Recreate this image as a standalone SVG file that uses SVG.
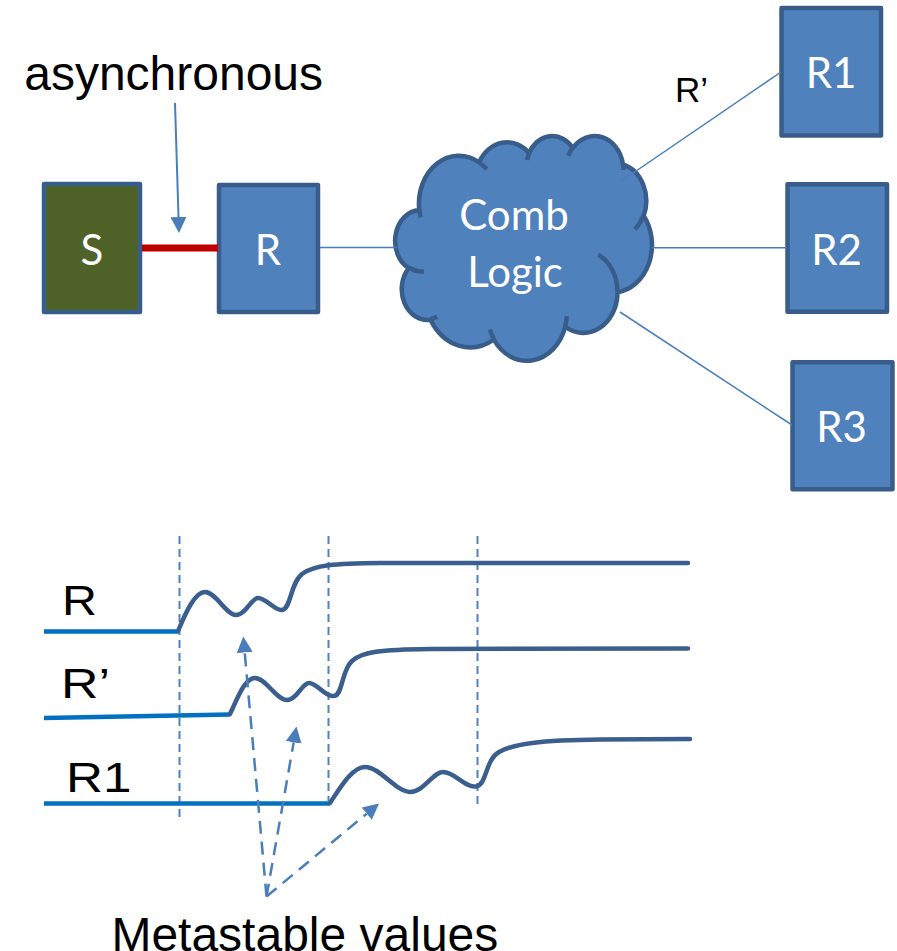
<svg xmlns="http://www.w3.org/2000/svg" width="897" height="951" viewBox="0 0 897 951">
  <defs>
    <style>
      .box { fill: #4F81BD; stroke: #385D8A; stroke-width: 4.5; stroke-linejoin: round; }
      .olive { fill: #4F6228; }
      .lbl { font-family: Lato, "Open Sans", "Noto Sans", sans-serif; font-size: 42px; fill: #FFFFFF; text-anchor: middle; }
      .txt { font-family: "Liberation Sans", Arial, sans-serif; fill: #000000; }
      .wire { stroke: #4A7EBB; stroke-width: 1.5; fill: none; }
      .async { stroke: #C00000; stroke-width: 7; fill: none; }
      .grid { stroke: #4F81BD; stroke-width: 2; stroke-dasharray: 8 5; fill: none; }
      .low { stroke: #0070C0; stroke-width: 4.5; fill: none; }
      .wave { stroke: #3A5F8E; stroke-width: 4.5; fill: none; stroke-linecap: round; stroke-linejoin: round; }
      .ptr { stroke: #4A7EBB; stroke-width: 2.5; stroke-dasharray: 13 8; fill: none; marker-end: url(#head); }
      .solid-ptr { stroke: #4A7EBB; stroke-width: 2; fill: none; marker-end: url(#head); }
      .cloud { fill: #4F81BD; stroke: #385D8A; stroke-width: 4.5; stroke-linejoin: round; }
      .rib { fill: none; stroke: #385D8A; stroke-width: 4.5; }
    </style>
    <marker id="head" viewBox="0 0 16 16" refX="0" refY="8" markerWidth="16" markerHeight="16" markerUnits="userSpaceOnUse" orient="auto">
      <path d="M0,0 L16,8 L0,16 Z" fill="#4A7EBB"/>
    </marker>
  </defs>

  <rect width="897" height="951" fill="#FFFFFF"/>

  <!-- sender / receiver registers -->
  <g id="node-S">
    <rect class="box olive" x="44" y="184" width="96" height="128"/>
    <text class="lbl" x="92" y="265">S</text>
  </g>
  <g id="node-R">
    <rect class="box" x="219" y="185" width="99" height="127"/>
    <text class="lbl" x="268" y="265">R</text>
  </g>

  <!-- combinational logic cloud (43200-unit preset geometry) -->
  <g id="node-comb-logic">
    <g transform="translate(396.2 135.27) scale(0.005918 0.005202)">
      <path class="cloud" vector-effect="non-scaling-stroke" d="M3900 14370 A6753 9190 0 0 1 14005 5202 A5333 7267 0 0 1 22456 3432 A4365 5945 0 0 1 29833 2481 A4857 6595 0 0 1 38318 5576 A5333 7273 0 0 1 41819 15460 A6775 9220 0 0 1 37405 30203 A5785 7867 0 0 1 28557 36813 A6752 9215 0 0 1 16481 39264 A7720 10543 0 0 1 5805 35470 A4360 5918 0 0 1 2114 25548 A4345 5945 0 0 1 3900 14370 Z"/>
      <path class="rib" vector-effect="non-scaling-stroke" d="M4693 26177 A4345 5945 0 0 1 2160 25380 M6928 34899 A4360 5918 0 0 1 5820 35281 M16478 39090 A6752 9215 0 0 1 15810 37350 M28827 34751 A6752 9215 0 0 1 28560 36660 M34129 22954 A5785 7867 0 0 1 37380 30090 M41798 15354 A5333 7273 0 0 1 40350 18030 M38324 5426 A4857 6595 0 0 1 38400 6690 M29078 3952 A4857 6595 0 0 1 29820 2341 M22141 4720 A4365 5945 0 0 1 22500 3330 M14000 5192 A6753 9190 0 0 1 15300 6540 M4127 15789 A6753 9190 0 0 1 3900 14370"/>
    </g>
    <text class="lbl" x="514" y="230">Comb</text>
    <text class="lbl" x="515" y="287">Logic</text>
  </g>

  <g id="node-R1">
    <rect class="box" x="781.5" y="8" width="99.5" height="127.5"/>
    <text class="lbl" x="831" y="88">R1</text>
  </g>
  <g id="node-R2">
    <rect class="box" x="787.5" y="184.3" width="99.5" height="127.5"/>
    <text class="lbl" x="836.5" y="265">R2</text>
  </g>
  <g id="node-R3">
    <rect class="box" x="792.5" y="362.3" width="100" height="127"/>
    <text class="lbl" x="841.5" y="442">R3</text>
  </g>

  <!-- wiring between blocks -->
  <g id="connectors">
    <line class="async" x1="142" y1="248" x2="218" y2="248"/>
    <line class="wire" x1="320" y1="247.5" x2="397" y2="247.5"/>
    <line class="wire" x1="620" y1="182" x2="781" y2="72"/>
    <line class="wire" x1="652" y1="247.7" x2="787" y2="247.7"/>
    <line class="wire" x1="620" y1="312" x2="792" y2="425"/>
    <line class="solid-ptr" x1="175" y1="103" x2="178.5" y2="217"/>
  </g>

  <text class="txt" x="24.2" y="90" font-size="48">asynchronous</text>
  <text class="txt" x="675" y="102" font-size="35">R’</text>

  <!-- timing diagram: clock edges -->
  <g id="clock-edges">
    <line class="grid" x1="179.5" y1="536" x2="179.5" y2="821"/>
    <line class="grid" x1="328.5" y1="536" x2="328.5" y2="801"/>
    <line class="grid" x1="477.5" y1="536" x2="477.5" y2="806"/>
  </g>

  <!-- signal traces -->
  <g id="signal-R">
    <line class="low" x1="44" y1="631.5" x2="179" y2="631.5"/>
    <path class="wave" d="M178.5,630 C186,612 195,592 205,592 C216,592 226,615 236,615 C246,615 251,598 258,598 C266,598 275,611 282,610 C291,609 290,584 302,574 C314,565 335,563.5 380,563 L688,563"/>
    <text class="txt" x="62" y="615" font-size="43" textLength="35" lengthAdjust="spacingAndGlyphs">R</text>
  </g>
  <g id="signal-R-prime">
    <line class="low" x1="44" y1="718" x2="230" y2="714.5"/>
    <path class="wave" d="M230,714 C238,697 245,678 255,678 C266,678 276,700 287,700 C297,700 302,683 309,683 C317,683 325,697 334,696 C343,695 341,671 352,661 C362,652 380,649.5 430,649 L688,648.5"/>
    <text class="txt" x="61" y="698" font-size="43" textLength="49" lengthAdjust="spacingAndGlyphs">R’</text>
  </g>
  <g id="signal-R1">
    <line class="low" x1="44" y1="803.5" x2="330" y2="803.5"/>
    <path class="wave" d="M330,803 C340,788 352,767 365,767 C380,767 396,792 410,792 C424,792 433,772 443,772 C455,772 465,788 476,786.5 C487,785 485,760 499,752 C513,744 540,740 600,739.5 L690,739"/>
    <text class="txt" x="66" y="791.7" font-size="43" textLength="65.5" lengthAdjust="spacingAndGlyphs">R1</text>
  </g>

  <!-- metastability callout -->
  <g id="callout-arrows">
    <line class="ptr" x1="266.5" y1="896.5" x2="244.7" y2="652.4"/>
    <line class="ptr" x1="266.5" y1="896.5" x2="293.7" y2="742.3"/>
    <line class="ptr" x1="266.5" y1="896.5" x2="366.7" y2="813.7"/>
  </g>
  <text class="txt" x="111.4" y="950.5" font-size="48">Metastable values</text>
</svg>
